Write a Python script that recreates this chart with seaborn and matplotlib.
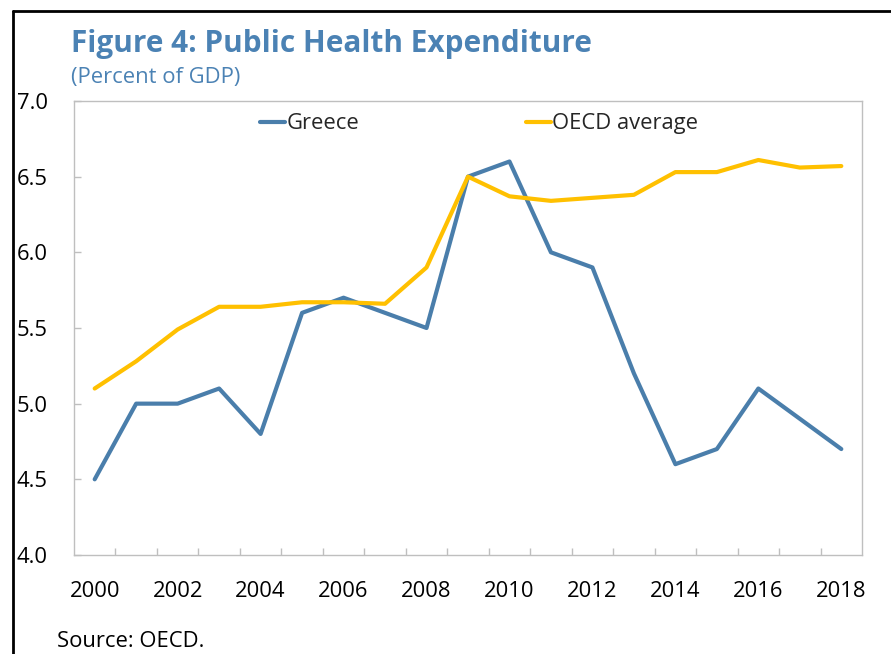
import matplotlib
matplotlib.use("Agg")
import matplotlib.pyplot as plt
from matplotlib.lines import Line2D
from matplotlib.ticker import MultipleLocator, FixedLocator
import seaborn as sns
import pandas as pd

years = list(range(2000, 2019))
greece = [4.5, 5.0, 5.0, 5.1, 4.8, 5.6, 5.7, 5.6, 5.5, 6.5, 6.6, 6.0, 5.9, 5.2, 4.6, 4.7, 5.1, 4.9, 4.7]
oecd = [5.10, 5.28, 5.49, 5.64, 5.64, 5.67, 5.67, 5.66, 5.90, 6.50, 6.37, 6.34, 6.36, 6.38, 6.53, 6.53, 6.61, 6.56, 6.57]
series_names = ["Greece", "OECD average"]
colors = ["#4A7EAB", "#FFC000"]
x_labels = [str(y) for y in range(2000, 2019, 2)]

df = pd.DataFrame({
    "year": years * 2,
    "value": greece + oecd,
    "series": [series_names[0]] * len(years) + [series_names[1]] * len(years),
})

sns.set_theme(style="white")
plt.rcParams['font.family'] = ['Open Sans', 'DejaVu Sans']

FS = 15.8

fig = plt.figure(figsize=(8.91, 6.54), dpi=100)
ax = fig.add_axes([0.083, 0.1514, 0.8845, 0.6942])

sns.lineplot(data=df, x="year", y="value", hue="series", palette=colors,
             linewidth=3.0, ax=ax, legend=True)

ax.set_xlim(1999.5, 2018.5)
ax.set_ylim(4.0, 7.0)
ax.yaxis.set_major_locator(MultipleLocator(0.5))
ax.yaxis.set_major_formatter(matplotlib.ticker.FormatStrFormatter("%.1f"))
ax.set_xticks(list(range(2000, 2019, 2)))
ax.set_xticklabels(x_labels)
ax.xaxis.set_minor_locator(FixedLocator([y + 0.5 for y in range(2000, 2018)]))
ax.tick_params(axis="x", which="major", length=0, pad=19, labelsize=FS, colors="#000000")
ax.tick_params(axis="x", which="minor", length=5, width=1, direction="in", color="#BFBFBF", bottom=True)
ax.tick_params(axis="y", which="major", length=5, width=1, direction="in", color="#BFBFBF",
               pad=19, labelsize=FS, labelcolor="#000000", left=True)
ax.set_xlabel("")
ax.set_ylabel("")
for s in ax.spines.values():
    s.set_color("#BFBFBF")
    s.set_linewidth(1.0)

handles, labels = ax.get_legend_handles_labels()
leg = ax.legend(handles, labels, loc="upper center", bbox_to_anchor=(0.514, 1.016), ncol=2,
                frameon=False, fontsize=FS, handlelength=1.15, handletextpad=0.05,
                columnspacing=7.6)

fig.text(71 / 891, 1 - 52 / 654, "Figure 4: Public Health Expenditure", fontsize=21.4,
         fontweight="bold", color="#4B82B4", ha="left", va="baseline")
fig.text(71 / 891, 1 - 83 / 654, "(Percent of GDP)", fontsize=FS,
         color="#4B82B4", ha="left", va="baseline")
fig.text(57 / 891, 1 - 647 / 654, "Source: OECD.", fontsize=FS, color="#000000",
         ha="left", va="baseline")

fig.add_artist(Line2D([12.5 / 891, 12.5 / 891], [0, 1 - 10.5 / 654], transform=fig.transFigure,
                      color="black", linewidth=2.0))
fig.add_artist(Line2D([12.5 / 891, 1], [1 - 10.5 / 654, 1 - 10.5 / 654], transform=fig.transFigure,
                      color="black", linewidth=2.0))

fig.savefig("out.png", dpi=100)
